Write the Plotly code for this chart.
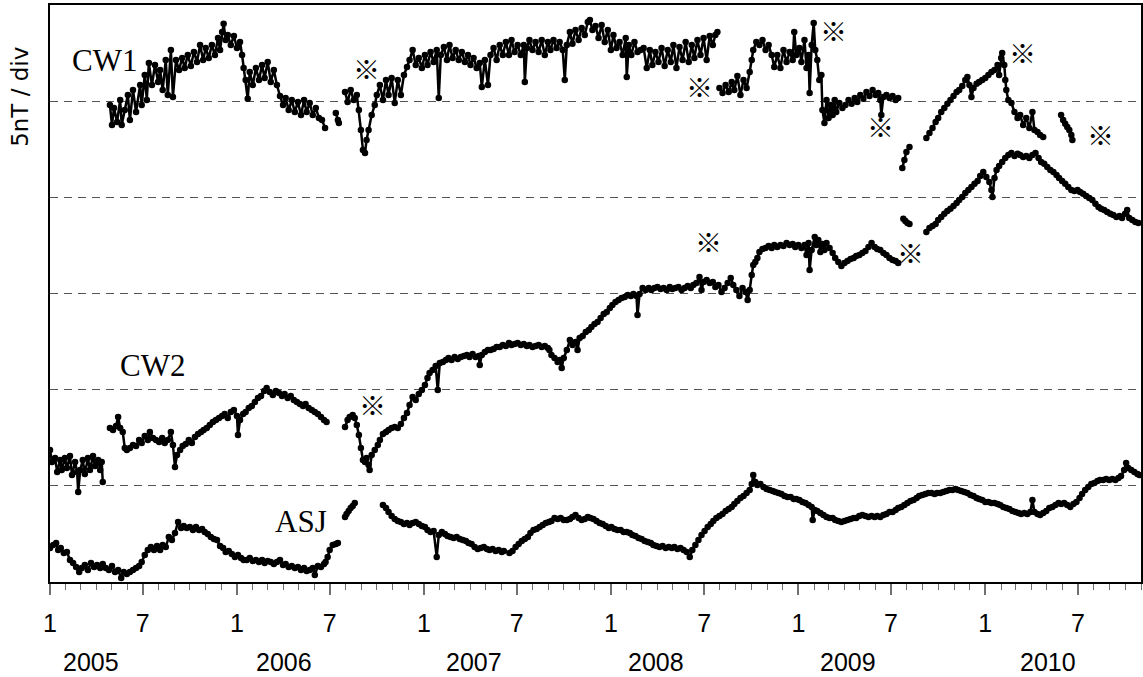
import datetime as dt
import plotly.graph_objects as go

# ---- data: (day offset from 2005-01-01, value in nT); None marks a data gap ----
cw1 = [
    (117,24.80),(121,23.76),(125,24.65),(131,23.92),(137,25.06),(140,23.76),(146,24.54),(152,25.32),(156,24.02),(162,25.58),
    (168,24.44),(176,25.84),(179,24.80),(185,26.36),(189,25.06),(193,26.99),(199,25.84),(205,26.88),(211,26.00),(215,26.62),
    (220,25.58),(226,27.14),(230,25.32),(236,27.66),(240,25.22),(246,27.14),(252,26.62),(258,27.25),(263,26.73),(269,27.40),
    (275,26.83),(281,27.56),(287,27.04),(293,27.92),(299,27.14),(304,27.77),(310,27.25),(316,27.92),(322,27.40),(328,28.29),
    (332,27.66),(336,28.60),(339,29.02),(343,28.18),(347,28.44),(353,27.92),(359,28.39),(365,27.77),(371,28.08),(375,27.40),
    (378,26.73),(382,26.10),(386,25.12),(390,26.52),(396,25.84),(402,26.73),(408,26.10),(414,26.88),(419,26.21),(425,27.04),
    (431,26.00),(437,26.62),(443,25.84),(449,25.27),(455,24.80),(460,25.17),(466,24.54),(472,25.06),(478,24.44),(484,24.96),
    (490,24.28),(496,25.06),(501,24.44),(507,24.91),(513,24.28),(519,24.65),(525,24.13),(531,24.02),(537,23.61),
    None,
    (558,24.39),(562,24.02),(564,23.87),
    None,
    (576,25.48),(581,24.96),(587,25.58),(593,25.06),(599,25.32),(603,24.54),(607,23.50),(611,22.46),(615,22.31),(618,22.98),
    (622,23.50),(628,24.28),(634,24.80),(638,25.32),(644,25.84),(650,25.06),(656,26.10),(661,25.32),(667,26.21),(673,24.91),
    (679,26.10),(685,25.32),(691,26.36),(697,26.78),(702,27.14),(708,27.66),(714,26.88),(720,27.25),(726,26.73),(732,27.40),
    (737,26.88),(743,27.56),(749,27.04),(755,27.66),(759,25.17),(763,27.40),(769,27.82),(775,27.14),(780,27.92),(786,27.25),
    (792,27.66),(798,27.14),(804,27.56),(810,27.04),(816,27.40),(821,26.88),(827,27.25),(833,26.73),(839,26.99),(843,25.74),
    (849,27.14),(855,25.84),(860,27.40),(866,27.77),(872,27.14),(878,27.92),(884,27.40),(890,28.08),(896,27.40),(901,28.18),
    (907,27.56),(913,27.92),(919,27.40),(925,27.92),(927,26.00),(931,27.77),(936,28.18),(942,27.66),(948,28.08),(954,27.56),
    (960,28.18),(966,27.40),(972,28.08),(977,27.66),(983,28.18),(989,27.77),(995,28.08),(1001,27.66),(1005,26.10),(1009,27.92),
    (1015,28.60),(1020,27.98),(1026,28.70),(1032,28.18),(1038,28.81),(1044,28.44),(1050,29.12),(1054,29.22),(1059,28.70),(1065,28.91),
    (1071,28.29),(1077,28.96),(1083,28.08),(1089,28.70),(1095,27.66),(1100,28.44),(1106,27.77),(1112,28.08),(1118,27.40),(1124,28.29),
    (1126,26.26),(1130,27.92),(1135,27.40),(1141,28.08),(1147,27.56),(1153,27.66),(1159,27.77),(1165,26.73),(1171,27.66),(1176,26.88),
    (1182,27.56),(1188,27.04),(1194,27.77),(1200,26.83),(1206,27.66),(1212,27.04),(1217,27.92),(1223,26.73),(1229,27.82),(1235,27.14),
    (1241,28.08),(1247,27.04),(1253,27.92),(1258,27.25),(1264,28.18),(1270,27.40),(1276,28.29),(1282,27.14),(1288,28.39),(1294,27.92),
    (1299,28.44),(1303,28.60),
    None,
    (1307,25.69),(1313,25.43),(1319,25.84),(1325,25.48),(1331,26.00),(1336,25.58),(1342,26.31),(1348,25.32),(1354,26.10),(1360,25.69),
    (1366,26.52),(1370,27.14),(1373,27.66),(1379,28.08),(1385,27.92),(1391,28.18),(1397,27.66),(1403,27.92),(1409,27.40),(1414,26.78),
    (1420,27.40),(1426,26.73),(1432,27.66),(1438,27.04),(1444,27.56),(1450,27.14),(1453,28.60),(1457,27.40),(1463,27.77),(1467,27.04),
    (1473,28.18),(1477,26.73),(1481,27.40),(1483,25.43),(1487,27.92),(1491,29.07),(1494,27.66),(1498,27.14),(1502,26.10),(1506,26.36),
    (1508,24.54),(1512,23.87),(1516,25.06),(1520,24.13),(1524,24.80),(1528,24.28),(1532,25.06),(1535,24.44),(1541,24.91),(1547,24.65),
    (1553,24.80),(1559,25.06),(1565,24.86),(1571,25.17),(1576,24.96),(1582,25.32),(1588,25.12),(1594,25.48),(1600,25.27),(1606,25.58),
    (1612,25.32),(1617,25.43),(1621,25.06),(1623,24.28),(1627,25.22),(1633,25.32),(1639,25.17),(1645,25.27),(1651,25.06),(1656,25.17),
    None,
    (1664,21.53),(1668,21.94),(1672,22.36),(1678,22.62),
    None,
    (1711,23.09),(1717,23.35),(1723,23.61),(1729,23.92),(1734,24.13),(1740,24.44),(1746,24.65),(1752,24.86),(1758,25.06),(1764,25.27),
    (1770,25.48),(1775,25.58),(1781,25.79),(1787,26.10),(1791,26.26),(1795,25.84),(1799,25.22),(1803,25.69),(1809,25.90),(1814,26.00),
    (1820,26.10),(1826,26.21),(1832,26.36),(1838,26.52),(1844,26.62),(1850,26.88),(1853,26.36),(1857,27.25),(1859,27.51),(1863,26.88),
    (1865,26.10),(1867,25.58),(1871,25.06),(1877,24.91),(1883,24.44),(1889,24.13),(1894,24.28),(1900,23.76),(1906,24.13),(1912,23.61),
    (1918,24.44),(1922,23.50),(1928,23.40),(1933,23.24),(1939,23.14),
    None,
    (1974,24.28),(1978,24.02),(1982,23.82),(1986,23.66),(1990,23.50),(1994,23.24),(1996,22.98),
]

cw2 = [
    (0,6.86),(4,6.24),(10,6.45),(14,5.72),(20,6.34),(23,5.82),(29,6.45),(33,5.93),(39,6.55),(43,5.56),
    (49,6.24),(53,5.72),(55,4.68),(59,5.82),(64,6.34),(68,5.62),(74,6.45),(78,5.82),(84,6.55),(88,6.03),
    (94,6.34),(98,5.82),(101,6.24),(103,5.20),
    None,
    (117,8.01),(123,7.90),(129,8.11),(133,8.58),(137,8.01),(142,7.80),(146,6.97),(150,6.86),(156,6.97),(162,7.12),
    (168,7.07),(174,7.38),(179,7.23),(185,7.59),(191,7.38),(195,7.80),(201,7.49),(207,7.38),(213,7.28),(219,7.49),
    (224,7.23),(230,7.38),(236,7.80),(240,7.12),(244,5.98),(248,6.60),(254,6.86),(259,7.07),(265,7.18),(271,7.38),
    (277,7.23),(283,7.54),(289,7.70),(295,7.80),(300,7.90),(306,8.01),(312,8.16),(318,8.32),(324,8.42),(330,8.53),
    (336,8.63),(341,8.74),(347,8.53),(353,8.84),(359,8.94),(365,8.63),(367,7.64),(371,8.42),(377,8.74),(382,8.84),
    (388,9.05),(394,9.15),(400,9.36),(406,9.57),(412,9.67),(418,9.93),(423,10.09),(429,9.88),(435,9.72),(441,9.93),
    (447,9.83),(453,9.67),(458,9.78),(464,9.57),(470,9.67),(476,9.46),(482,9.36),(488,9.26),(494,9.15),(499,9.26),
    (505,9.05),(511,8.94),(517,8.84),(523,8.74),(529,8.58),(535,8.42),(540,8.32),
    None,
    (576,8.06),(581,8.42),(585,8.58),(591,8.68),(595,8.53),(599,8.16),(603,7.64),(607,6.97),(611,6.34),(615,6.24),
    (618,6.45),(622,6.08),(624,5.82),(628,6.60),(634,6.86),(640,7.12),(644,7.38),(650,7.70),(656,7.80),(661,7.90),
    (667,8.01),(673,8.06),(679,8.01),(685,8.22),(691,8.53),(697,8.79),(702,9.20),(708,9.62),(714,9.46),(720,9.78),
    (726,9.98),(732,10.24),(737,10.61),(741,10.87),(747,11.02),(753,11.23),(757,9.98),(761,11.39),(767,11.44),(773,11.54),
    (778,11.65),(784,11.54),(790,11.70),(796,11.60),(802,11.70),(808,11.75),(814,11.80),(819,11.70),(825,11.86),(831,11.70),
    (837,11.75),(839,11.28),(843,11.80),(849,11.96),(855,12.06),(860,12.06),(866,12.12),(872,12.22),(878,12.22),(884,12.32),
    (890,12.27),(896,12.43),(901,12.32),(907,12.38),(913,12.43),(919,12.32),(925,12.38),(931,12.27),(936,12.32),(942,12.22),
    (948,12.27),(954,12.32),(960,12.22),(966,12.27),(972,12.17),(975,12.06),(979,11.80),(985,11.65),(991,11.44),(995,11.54),
    (999,11.13),(1003,11.65),(1009,12.06),(1015,12.58),(1020,12.32),(1026,12.48),(1030,12.06),(1034,12.69),(1040,12.79),(1046,13.00),
    (1052,13.10),(1057,13.26),(1063,13.42),(1069,13.52),(1075,13.73),(1081,13.94),(1087,14.04),(1093,14.25),(1098,14.40),(1104,14.56),
    (1110,14.66),(1116,14.77),(1122,14.82),(1128,14.92),(1134,14.87),(1139,14.98),(1145,14.87),(1147,13.88),(1151,14.98),(1157,15.29),
    (1163,15.18),(1169,15.29),(1174,15.18),(1180,15.29),(1186,15.34),(1192,15.24),(1198,15.29),(1204,15.18),(1210,15.34),(1215,15.24),
    (1221,15.29),(1227,15.34),(1233,15.18),(1239,15.29),(1245,15.39),(1251,15.29),(1256,15.44),(1262,15.55),(1268,15.86),(1272,15.18),
    (1276,15.60),(1282,15.70),(1288,15.55),(1294,15.60),(1299,15.34),(1305,15.44),(1311,15.08),(1317,15.29),(1323,15.55),(1329,15.81),
    (1334,15.44),(1340,15.18),(1346,14.87),(1352,15.29),(1358,15.08),(1362,14.66),(1366,15.18),(1370,15.96),(1373,16.48),(1377,16.64),
    (1381,16.85),(1385,17.16),(1391,17.32),(1397,17.37),(1403,17.47),(1409,17.37),(1414,17.52),(1420,17.42),(1426,17.52),(1432,17.47),
    (1438,17.63),(1444,17.52),(1450,17.58),(1455,17.42),(1461,17.52),(1467,17.37),(1473,17.52),(1477,17.00),(1481,17.63),(1483,16.22),
    (1487,17.26),(1493,17.94),(1496,17.52),(1500,17.78),(1504,17.16),(1508,17.58),(1512,17.26),(1516,17.63),(1522,17.37),(1528,17.11),
    (1533,16.85),(1539,16.64),(1545,16.43),(1551,16.59),(1557,16.69),(1563,16.80),(1569,16.85),(1574,16.95),(1580,17.00),(1586,17.11),
    (1592,17.21),(1598,17.42),(1604,17.63),(1610,17.42),(1615,17.32),(1621,17.26),(1627,17.11),(1633,17.00),(1639,16.85),(1645,16.74),
    (1651,16.69),(1656,16.59),
    None,
    (1666,18.88),(1670,18.77),(1674,18.67),(1678,18.62),
    None,
    (1711,18.20),(1717,18.41),(1723,18.51),(1729,18.62),(1734,18.82),(1740,18.98),(1746,19.14),(1752,19.29),(1758,19.40),(1764,19.55),
    (1770,19.71),(1775,19.86),(1781,20.02),(1787,20.23),(1793,20.38),(1799,20.54),(1805,20.70),(1811,20.85),(1816,21.11),(1822,21.32),
    (1828,21.06),(1834,20.80),(1838,20.38),(1840,20.02),(1844,21.01),(1848,21.42),(1853,21.63),(1859,21.84),(1865,22.05),(1871,22.20),
    (1877,22.31),(1883,22.15),(1889,22.26),(1894,22.20),(1900,22.10),(1906,22.15),(1912,22.05),(1918,22.20),(1924,22.31),(1930,22.05),
    (1935,21.84),(1941,21.74),(1947,21.58),(1953,21.42),(1959,21.32),(1965,21.16),(1970,21.01),(1976,20.85),(1982,20.70),(1988,20.54),
    (1994,20.38),(2000,20.33),(2006,20.38),(2011,20.28),(2017,20.18),(2023,20.07),(2029,19.97),(2035,19.86),(2041,19.66),(2047,19.50),
    (2052,19.40),(2058,19.34),(2064,19.24),(2070,19.14),(2076,19.08),(2082,18.98),(2088,19.03),(2093,18.93),(2099,19.14),(2103,19.34),
    (2107,18.93),(2113,18.82),(2119,18.72),(2125,18.67),
]

asj = [
    (0,1.77),(6,1.92),(12,2.03),(16,1.66),(21,1.77),(27,1.51),(33,1.56),(39,1.14),(45,0.99),(51,0.78),
    (57,0.52),(62,0.73),(68,0.88),(74,0.62),(80,0.99),(86,0.78),(92,0.88),(98,0.73),(103,0.94),(109,0.73),
    (115,0.62),(121,0.83),(127,0.52),(133,0.62),(139,0.21),(144,0.52),(150,0.42),(156,0.52),(162,0.62),(168,0.73),
    (174,0.83),(179,1.04),(185,1.40),(191,1.66),(197,1.82),(203,1.66),(209,1.87),(215,1.66),(220,1.92),(226,1.82),
    (232,2.34),(238,2.18),(244,2.55),(250,3.12),(256,2.81),(261,2.91),(267,2.81),(273,2.86),(279,2.70),(285,2.86),
    (291,2.70),(297,2.76),(302,2.60),(308,2.50),(314,2.34),(320,2.24),(326,2.18),(332,1.87),(338,1.77),(343,1.56),
    (349,1.61),(355,1.46),(361,1.30),(367,1.40),(373,1.25),(378,1.14),(384,1.14),(390,1.25),(396,1.09),(402,1.14),
    (408,1.04),(414,1.14),(419,0.99),(425,1.09),(431,1.04),(437,0.94),(443,1.04),(449,1.14),(455,0.88),(460,0.94),
    (466,0.78),(472,0.83),(478,0.73),(484,0.78),(490,0.62),(496,0.73),(501,0.57),(507,0.62),(513,0.73),(517,0.36),
    (523,0.83),(529,0.78),(535,0.94),(538,1.04),(542,1.30),(546,1.66),(552,1.92),(558,1.98),(562,2.03),
    None,
    (576,3.38),(579,3.54),(583,3.69),(587,3.85),(591,3.95),(595,4.11),
    None,
    (650,4.00),(656,3.85),(661,3.64),(667,3.43),(673,3.28),(679,3.17),(685,3.12),(691,3.02),(697,3.07),(702,2.96),
    (708,3.07),(714,3.12),(720,3.02),(726,2.91),(732,2.86),(737,2.70),(743,2.60),(749,2.65),(755,1.30),(759,2.44),
    (765,2.60),(771,2.50),(776,2.39),(782,2.34),(788,2.29),(794,2.34),(800,2.24),(806,2.18),(812,2.13),(817,2.03),
    (823,1.98),(829,1.82),(835,1.72),(841,1.77),(847,1.82),(853,1.72),(858,1.66),(864,1.72),(870,1.61),(876,1.66),
    (882,1.56),(886,1.61),
    None,
    (897,1.51),(903,1.61),(909,1.82),(915,1.98),(921,2.13),(927,2.24),(933,2.34),(938,2.55),(944,2.70),(950,2.76),
    (956,2.86),(962,2.96),(968,3.07),(974,3.12),(979,3.17),(985,3.33),(991,3.28),(997,3.33),(1003,3.22),(1009,3.22),
    (1015,3.28),(1020,3.38),(1026,3.48),(1032,3.33),(1038,3.22),(1044,3.28),(1050,3.38),(1055,3.33),(1061,3.28),(1067,3.17),
    (1073,3.07),(1079,3.02),(1085,2.91),(1091,2.81),(1096,2.86),(1102,2.76),(1108,2.70),(1114,2.70),(1120,2.60),(1126,2.60),
    (1132,2.55),(1137,2.44),(1143,2.39),(1149,2.29),(1155,2.24),(1161,2.13),(1167,2.08),(1173,2.03),(1178,1.92),(1184,1.87),
    (1190,1.82),(1196,1.87),(1202,1.77),(1208,1.82),(1214,1.77),(1219,1.82),(1225,1.72),(1231,1.77),(1237,1.66),(1243,1.56),
    (1249,1.30),(1254,1.66),(1260,1.92),(1266,2.18),(1272,2.44),(1278,2.65),(1284,2.86),(1290,3.02),(1295,3.17),(1301,3.33),
    (1307,3.43),(1313,3.54),(1319,3.69),(1325,3.80),(1331,3.90),(1336,4.06),(1342,4.21),(1348,4.37),(1354,4.47),(1360,4.63),
    (1366,4.78),(1370,5.10),(1373,5.56),(1377,5.20),(1381,5.04),(1387,5.10),(1393,4.94),(1399,4.84),(1405,4.78),(1411,4.73),
    (1416,4.68),(1422,4.63),(1428,4.58),(1434,4.47),(1440,4.42),(1446,4.42),(1452,4.32),(1457,4.32),(1463,4.26),(1469,4.16),
    (1475,4.11),(1481,4.00),(1487,3.90),(1489,3.22),(1493,3.74),(1498,3.69),(1504,3.59),(1510,3.48),(1516,3.38),(1522,3.33),
    (1528,3.33),(1533,3.22),(1539,3.17),(1545,3.12),(1551,3.17),(1557,3.22),(1563,3.28),(1569,3.33),(1574,3.33),(1580,3.43),
    (1586,3.48),(1592,3.43),(1598,3.38),(1604,3.43),(1610,3.38),(1615,3.43),(1621,3.38),(1627,3.48),(1633,3.54),(1639,3.64),
    (1645,3.64),(1651,3.74),(1656,3.85),(1662,3.90),(1668,4.00),(1674,4.11),(1680,4.21),(1686,4.26),(1692,4.37),(1697,4.47),
    (1703,4.52),(1709,4.58),(1715,4.63),(1721,4.63),(1727,4.58),(1732,4.63),(1738,4.63),(1744,4.68),(1750,4.73),(1756,4.78),
    (1762,4.78),(1768,4.84),(1773,4.78),(1779,4.73),(1785,4.68),(1791,4.63),(1797,4.52),(1803,4.47),(1809,4.37),(1814,4.32),
    (1820,4.26),(1826,4.16),(1832,4.16),(1838,4.11),(1844,4.11),(1850,4.06),(1855,4.00),(1861,3.90),(1867,3.85),(1873,3.80),
    (1879,3.69),(1885,3.64),(1891,3.59),(1896,3.54),(1902,3.59),(1908,3.54),(1914,3.64),(1918,4.26),(1922,3.64),(1928,3.54),
    (1933,3.48),(1939,3.59),(1945,3.69),(1951,3.85),(1957,3.90),(1963,4.00),(1969,4.11),(1974,4.06),(1980,4.11),(1986,4.00),
    (1992,3.90),(1998,4.06),(2004,4.16),(2010,4.37),(2015,4.58),(2021,4.78),(2027,4.94),(2033,5.10),(2039,5.15),(2045,5.25),
    (2050,5.30),(2056,5.30),(2062,5.36),(2068,5.30),(2074,5.36),(2080,5.30),(2086,5.41),(2091,5.51),(2097,5.82),(2101,6.19),
    (2105,5.93),(2111,5.82),(2117,5.72),(2123,5.62),(2127,5.56),
]

series_names = ["CW1", "CW2", "ASJ"]
series_label_pos = [(107, 27.13), (201, 11.28), (490, 3.12)]          # (day, nT) of each station label
kome_marks = [(617, 26.72), (1268, 25.78), (1530, 28.69), (1621, 23.70), (1898, 27.55),
              (2050, 23.28), (630, 9.25), (1286, 17.72), (1680, 17.15)]  # (day, nT) of the "※" notes
years = [2005, 2006, 2007, 2008, 2009, 2010]
year_label_day = [80, 456, 827, 1184, 1557, 1949]
month_ticks = [1, 7]

BASE = dt.datetime(2005, 1, 1)


def to_date(d):
    return BASE + dt.timedelta(days=d)


def split_xy(pts):
    xs, ys = [], []
    for p in pts:
        if p is None:
            xs.append(None)
            ys.append(None)
        else:
            xs.append(to_date(p[0]))
            ys.append(p[1])
    return xs, ys


fig = go.Figure()
for name, pts in zip(series_names, [cw1, cw2, asj]):
    xs, ys = split_xy(pts)
    fig.add_trace(go.Scatter(
        x=xs, y=ys, name=name, mode="lines+markers",
        line=dict(color="black", width=2.5),
        marker=dict(color="black", size=6.5),
        connectgaps=False, showlegend=False, hoverinfo="skip",
    ))

label_font = dict(family="Liberation Serif, DejaVu Serif, serif", size=31, color="black")
for name, (d, v) in zip(series_names, series_label_pos):
    fig.add_annotation(x=to_date(d), y=v, text=name, showarrow=False,
                       xanchor="center", yanchor="middle", font=label_font)

for d, v in kome_marks:
    fig.add_annotation(x=to_date(d), y=v, text="※", showarrow=False,
                       xanchor="center", yanchor="middle",
                       font=dict(family="Noto Sans CJK JP, sans-serif", size=27, color="black"))

tick_font = dict(family="Liberation Sans, Arial, sans-serif", size=25, color="black")
for yr, d in zip(years, year_label_day):
    fig.add_annotation(x=to_date(d), y=-0.139, yref="paper", text=str(yr), showarrow=False,
                       xanchor="center", yanchor="middle", font=tick_font)

fig.add_annotation(x=-0.027, y=0.84, xref="paper", yref="paper", text="5nT / div",
                   textangle=-90, showarrow=False, xanchor="center", yanchor="middle",
                   font=dict(family="DejaVu Sans, sans-serif", size=23, color="black"))

tickvals, ticktext = [], []
for yr in years:
    for m in month_ticks:
        tickvals.append(dt.datetime(yr, m, 1))
        ticktext.append(str(m))

fig.update_xaxes(
    type="date", range=[BASE, dt.datetime(2010, 11, 1)],
    tickmode="array", tickvals=tickvals, ticktext=ticktext,
    ticks="outside", ticklen=11, tickwidth=1.5, tickcolor="#707070",
    tickfont=tick_font, ticklabelstandoff=7,
    showline=True, linecolor="black", linewidth=2, mirror=True,
    showgrid=False, zeroline=False,
    minor=dict(ticks="outside", ticklen=6, tickwidth=1.2, tickcolor="#707070",
               dtick="M1", tick0="2005-01-01", showgrid=False),
)
fig.update_yaxes(
    range=[0, 30], tickmode="array", tickvals=[5, 10, 15, 20, 25],
    showticklabels=False, ticks="",
    showgrid=True, gridcolor="#555555", gridwidth=1, griddash="8px,6px",
    showline=True, linecolor="black", linewidth=2, mirror=True, zeroline=False,
)
fig.update_layout(
    width=1143, height=677,
    margin=dict(l=50, r=2, t=5, b=95, autoexpand=False),
    paper_bgcolor="white", plot_bgcolor="white",
    showlegend=False,
)

fig.write_html(
    "out.html",
    config={"displayModeBar": False},
    post_script="document.body.style.margin='0px';document.body.style.overflow='hidden';",
)
